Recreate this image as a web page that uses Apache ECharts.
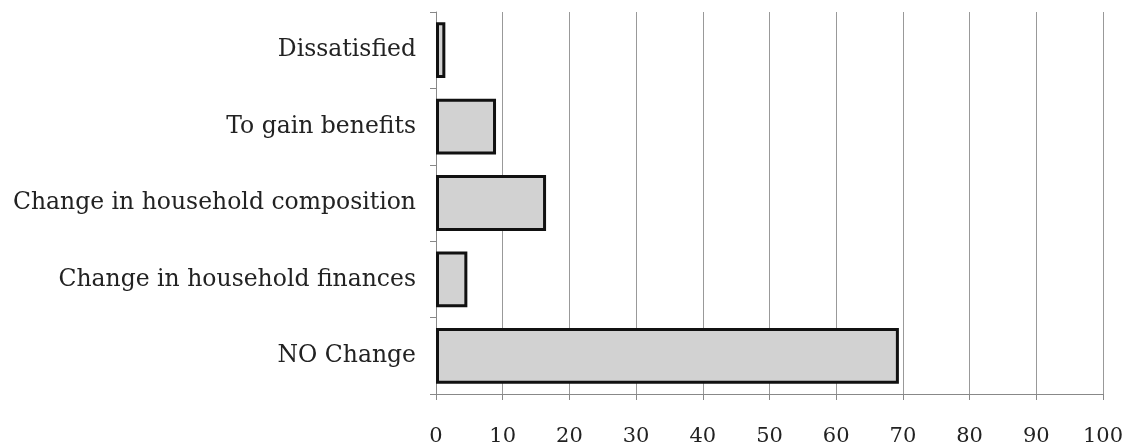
<!DOCTYPE html>
<html><head><meta charset="utf-8">
<script src="https://cdn.jsdelivr.net/npm/echarts@6/dist/echarts.min.js"></script>
<style>html,body{margin:0;padding:0;background:#fff}#c{width:1128px;height:447px}</style>
</head><body><div id="c"></div>
<script>
const categories = ["NO Change", "Change in household finances", "Change in household composition", "To gain benefits", "Dissatisfied"];
const values = [69.4, 4.7, 16.5, 9, 1.4];
const chart = echarts.init(document.getElementById('c'));
const font = "'DejaVu Serif', serif";
chart.setOption({
  animation: false,
  grid: {left: 436, right: 25, top: 12, bottom: 52, containLabel: false},
  xAxis: {
    type: 'value', min: 0, max: 100, interval: 10,
    axisLine: {show: true, lineStyle: {color: '#888', width: 1}},
    axisTick: {show: true, length: 6, lineStyle: {color: '#888'}},
    splitLine: {show: true, lineStyle: {color: '#999', width: 1}},
    axisLabel: {color: '#222', fontFamily: font, fontSize: 21, margin: 32}
  },
  yAxis: {
    type: 'category', data: categories,
    axisLine: {show: true, lineStyle: {color: '#888', width: 1}},
    axisTick: {show: true, length: 6, lineStyle: {color: '#888'}},
    axisLabel: {color: '#222', fontFamily: font, fontSize: 23.5, margin: 20}
  },
  series: [{
    type: 'bar', data: values, barCategoryGap: '27%',
    itemStyle: {color: '#d2d2d2', borderColor: '#111', borderWidth: 3}
  }]
});
</script></body></html>
